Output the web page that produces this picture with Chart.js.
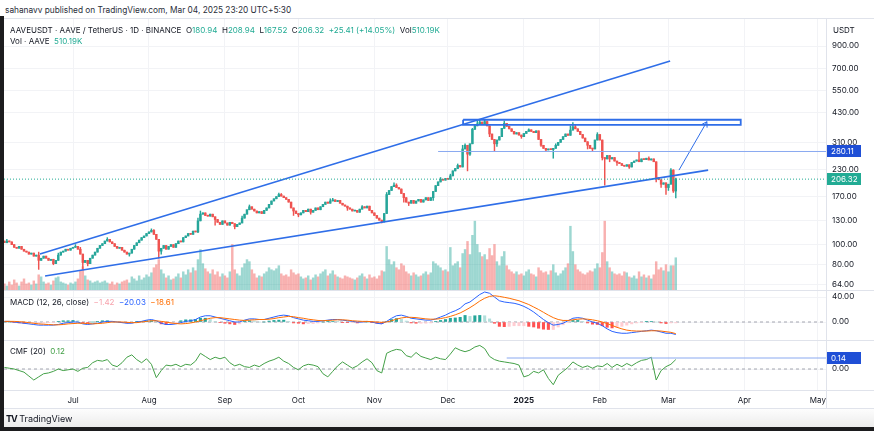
<!DOCTYPE html>
<html>
<head>
<meta charset="utf-8">
<script src="https://cdn.jsdelivr.net/npm/chart.js@4.4.1/dist/chart.umd.min.js"></script>
<style>
  html, body { margin: 0; padding: 0; background: #fff; }
  body { width: 874px; height: 431px; position: relative; overflow: hidden; font-family: Inter, "Noto Sans", sans-serif; color: #131722; }
  canvas { position: absolute; left: 4px; }
  .t { position: absolute; white-space: nowrap; font-size: 8px; line-height: 10px; }
  .g { color: #22ab94; }
  .hl { position: absolute; left: 4px; width: 870px; height: 1px; background: #e0e3eb; }
</style>
</head>
<body>
<div class="t" style="left:5px;top:5px;font-size:8.3px;color:#2a2e39">sahanavv published on TradingView.com, Mar 04, 2025 23:20 UTC+5:30</div>

<canvas id="main" width="870" height="272" style="top:18px"></canvas>
<canvas id="macd" width="870" height="50" style="top:290px"></canvas>
<canvas id="cmf" width="870" height="68" style="top:340px"></canvas>

<div class="hl" style="top:18px"></div>
<div class="hl" style="top:290px"></div>
<div class="hl" style="top:340px"></div>
<div class="hl" style="top:390px"></div>
<div class="hl" style="top:408px"></div>
<div style="position:absolute;left:826px;top:18px;width:1px;height:390px;background:#e0e3eb"></div>
<div style="position:absolute;left:0;top:16px;width:4px;height:415px;background:#1c1c1e"></div>
<div style="position:absolute;left:4px;top:409px;width:870px;height:18px;background:linear-gradient(#fdfdfd,#ececec)"></div>
<div style="position:absolute;left:0;top:427px;width:874px;height:4px;background:#1c1c1e"></div>

<div class="t" style="left:10px;top:25px">AAVEUSDT · AAVE / TetherUS · 1D · BINANCE&nbsp;&nbsp;O<span class="g">180.94</span>&nbsp;&nbsp;H<span class="g">208.94</span>&nbsp;&nbsp;L<span class="g">167.52</span>&nbsp;&nbsp;C<span class="g">206.32</span>&nbsp;&nbsp;<span class="g">+25.41 (+14.05%)</span>&nbsp;&nbsp;Vol<span class="g">510.19K</span></div>
<div class="t" style="left:10px;top:36px">Vol · AAVE&nbsp;&nbsp;<span class="g">510.19K</span></div>
<div class="t" style="left:833px;top:25px">USDT</div>
<div class="t" style="left:10px;top:297px">MACD (12, 26, close)&nbsp;&nbsp;<span style="color:#f7a3ad">−1.42</span>&nbsp;&nbsp;<span style="color:#2962ff">−20.03</span>&nbsp;&nbsp;<span style="color:#ff6d00">−18.61</span></div>
<div class="t" style="left:10px;top:346px">CMF (20)&nbsp;&nbsp;<span style="color:#43a047">0.12</span></div>
<div class="t" style="left:6px;top:413px;font-size:9px;line-height:12px"><b style="letter-spacing:-1px">TV</b> TradingView</div>

<script>
// daily candles, index 0 = 2024-06-03, last = 2025-03-04
const firstOpen = 104;
const closes = [
  102, 104, 103, 100, 97, 96, 98, 95, 93, 92,
  90, 91, 88, 89, 84, 86, 88, 86, 84, 85,
  81, 84, 89, 92, 93, 95, 94, 96, 97, 98,
  95, 90, 82, 84, 81, 86, 89, 92, 96, 99,
  101, 104, 106, 103, 101, 98, 96, 97, 94, 92,
  90, 91, 95, 99, 102, 105, 108, 110, 113, 115,
  117, 112, 106, 93, 96, 99, 95, 98, 100, 97,
  101, 104, 103, 108, 110, 113, 112, 116, 115, 130,
  140, 142, 138, 137, 140, 136, 132, 128, 125, 130,
  127, 124, 128, 126, 122, 125, 127, 134, 140, 147,
  152, 148, 145, 142, 144, 141, 146, 150, 156, 162,
  166, 170, 174, 171, 168, 165, 160, 150, 145, 141,
  139, 142, 146, 144, 148, 143, 146, 150, 147, 152,
  156, 160, 158, 162, 164, 161, 163, 158, 155, 153,
  150, 148, 145, 146, 143, 148, 152, 150, 153, 146,
  142, 138, 134, 131, 129, 141, 174, 182, 190, 193,
  188, 185, 176, 168, 160, 158, 163, 158, 162, 165,
  160, 164, 168, 163, 168, 180, 192, 200, 206, 204,
  208, 206, 214, 226, 232, 240, 236, 288, 300, 272,
  305, 358, 372, 380, 388, 378, 390, 372, 340, 320,
  305, 318, 330, 362, 382, 370, 360, 350, 340, 345,
  336, 330, 342, 350, 356, 350, 345, 352, 320, 300,
  290, 285, 288, 286, 290, 300, 310, 320, 330, 340,
  335, 355, 368, 360, 350, 338, 325, 312, 300, 290,
  288, 318, 338, 318, 262, 258, 268, 258, 262, 252,
  248, 245, 240, 238, 242, 236, 248, 252, 255, 250,
  258, 256, 260, 255, 258, 250, 210, 205, 195, 198,
  188, 195, 228, 180.94, 206.32
];
// visible wick extremes [candle index, price]
const wickHighs = [[1,106],[14,92],[22,91],[29,100],[31,97],[42,108],[60,119],[61,118],[79,134],[80,145],[97,137],[100,155],[112,177],[113,176],[133,166],[134,167],[146,154],[156,178],[159,198],[160,196],[178,210],[182,218],[185,244],[187,300],[188,305],[191,362],[192,378],[193,392],[194,398],[196,396],[197,392],[204,392],[205,382],[214,360],[225,305],[231,372],[232,386],[233,375],[242,345],[259,278],[263,264],[272,232],[273,229],[274,208.94]];
const wickLows = [[14,76],[20,80],[32,76],[34,79],[51,88],[63,86],[64,90],[79,114],[86,124],[94,119],[118,138],[120,136],[125,140],[140,146],[154,127],[155,128],[163,160],[165,154],[175,163],[189,226],[190,268],[198,330],[200,282],[201,296],[211,324],[219,296],[221,280],[224,260],[238,288],[240,280],[244,255],[245,193],[247,250],[250,240],[255,232],[266,200],[268,188],[270,174],[271,182],[273,178],[274,167.52]];
// volume, thousands of AAVE
const volumes = [
  96, 64, 128, 80, 160, 112, 64, 128, 176, 96,
  112, 80, 144, 96, 240, 208, 128, 96, 112, 80,
  144, 192, 208, 128, 112, 96, 80, 112, 96, 128,
  176, 304, 368, 224, 160, 144, 112, 128, 144, 112,
  128, 144, 112, 96, 128, 80, 112, 96, 128, 144,
  160, 112, 208, 176, 144, 224, 160, 192, 240, 208,
  272, 352, 400, 480, 320, 256, 192, 224, 160, 176,
  208, 256, 192, 288, 240, 320, 272, 352, 304, 480,
  640, 416, 336, 288, 256, 320, 240, 288, 208, 256,
  224, 192, 288, 720, 320, 256, 224, 352, 416, 480,
  448, 320, 256, 192, 224, 208, 256, 288, 352, 320,
  304, 336, 384, 256, 224, 240, 208, 320, 272, 240,
  256, 208, 176, 192, 224, 160, 192, 240, 208, 256,
  288, 320, 224, 256, 304, 240, 208, 192, 176, 224,
  208, 192, 176, 160, 192, 224, 256, 208, 176, 240,
  192, 208, 176, 224, 304, 288, 688, 480, 400, 448,
  352, 320, 416, 384, 288, 256, 224, 272, 240, 208,
  224, 256, 288, 240, 272, 448, 416, 384, 352, 304,
  320, 288, 672, 384, 416, 448, 352, 576, 640, 768,
  560, 864, 1088, 720, 592, 528, 560, 480, 656, 544,
  720, 448, 384, 528, 608, 384, 320, 288, 256, 288,
  240, 256, 224, 288, 320, 256, 240, 208, 352, 304,
  272, 288, 240, 304, 400, 272, 224, 256, 304, 352,
  416, 1008, 608, 400, 320, 288, 256, 240, 272, 304,
  288, 336, 416, 352, 592, 1088, 448, 352, 288, 256,
  240, 256, 224, 288, 272, 208, 192, 224, 176, 288,
  208, 240, 192, 224, 176, 240, 448, 320, 352, 304,
  400, 288, 384, 384, 510
];
// MACD / signal / CMF, read every second candle (index 0, 2, 4 ...)
const macdLine = [
  1, 1, 0, -1, -2, -3, -4, -5, -5, -5,
  -5, -4, -2, -1, 0, 0, -3, -4, -3, -2,
  0, 1, 1, 0, -1, -2, -2, 0, 1, 3,
  4, 2, -2, -4, -4, -3, -1, 1, 2, 4,
  8, 10, 10, 8, 6, 4, 2, 0, 0, 3,
  5, 5, 4, 4, 6, 8, 10, 11, 10, 7,
  5, 3, 2, 1, 1, 2, 3, 4, 4, 3,
  2, 1, 0, 0, 1, 0, -2, -3, 1, 6,
  10, 11, 9, 6, 5, 4, 3, 3, 5, 8,
  11, 15, 18, 22, 29, 32, 38, 44, 48, 46,
  40, 34, 32, 31, 30, 28, 25, 21, 16, 10,
  4, -1, -5, -4, -2, 2, 6, 7, 6, 3,
  0, -2, -6, -11, -15, -17, -18, -18, -17, -16,
  -15, -14, -13, -14, -16, -18, -18, -20.03
];
const signalLine = [
  1, 1, 1, 0.5, 0, -1, -2, -3, -3.5, -4,
  -4.5, -4.5, -4, -3, -2.5, -2, -2, -2.5, -3, -2.5,
  -2, -1, 0, 0, 0, -0.5, -1, -1, 0, 1,
  2, 2, 1, 0, -1.5, -2.5, -3, -2.5, -1.5, 0,
  2, 4, 6, 7, 7, 6, 5, 4, 3, 2.5,
  3, 3.5, 4, 4, 4.5, 5.5, 7, 8, 9, 8.5,
  7, 6, 4.5, 3.5, 2.5, 2, 2.5, 3, 3.5, 3.5,
  3, 2, 1.5, 1, 1, 0.5, 0, -0.5, 0, 2,
  4.5, 6.5, 7.5, 7.5, 7, 6, 5, 4.5, 4.5, 5.5,
  7, 9, 11.5, 14.5, 18.5, 23, 28, 33.5, 38, 41,
  42, 41, 39.5, 38, 36, 34, 31, 28, 24, 20,
  15.5, 11, 7, 4, 2.5, 2.5, 3.5, 4.5, 5, 4.5,
  3.5, 2, 0, -2.5, -5.5, -8.5, -11, -13, -14, -14.5,
  -14.5, -14.5, -14, -14, -14.5, -15.5, -16.5, -18.61
];
const cmfLine = [
  0.02, 0.01, 0.0, -0.02, -0.04, -0.09, -0.14, -0.10, -0.06, -0.05,
  -0.03, 0.0, -0.02, -0.01, 0.0, -0.03, 0.01, 0.02, 0.08, 0.11,
  0.10, 0.12, 0.05, 0.03, 0.08, 0.15, 0.18, 0.12, 0.08, 0.13,
  0.06, -0.11, -0.02, 0.05, 0.04, 0.06, 0.03, 0.06, 0.05, 0.10,
  0.20, 0.16, 0.12, 0.15, 0.13, 0.15, 0.08, 0.04, 0.06, 0.03,
  0.02, 0.05, 0.03, 0.07, 0.10, 0.12, 0.15, 0.10, 0.07, 0.02,
  -0.01, 0.04, 0.06, 0.05, 0.03, -0.06, -0.10, -0.03, 0.04, 0.09,
  0.05, 0.01, 0.04, 0.09, 0.13, 0.08, -0.02, -0.05, 0.20, 0.23,
  0.25, 0.24, 0.17, 0.15, 0.21, 0.16, 0.14, 0.12, 0.15, 0.13,
  0.12, 0.19, 0.27, 0.24, 0.22, 0.24, 0.28, 0.30, 0.26, 0.16,
  0.12, 0.10, 0.09, 0.08, 0.07, 0.05, -0.10, -0.08, -0.03, -0.05,
  -0.01, -0.12, -0.20, -0.08, -0.03, 0.02, 0.09, 0.05, 0.02, 0.04,
  0.01, 0.04, 0.03, 0.07, 0.02, 0.06, 0.03, 0.07, 0.04, 0.08,
  0.11, 0.12, 0.15, -0.14, -0.02, 0.03, 0.06, 0.12
];
// axes
const monthTicks = [28, 59, 90, 120, 151, 181, 212, 243, 271, 302, 332];
const monthLabels = ['Jul', 'Aug', 'Sep', 'Oct', 'Nov', 'Dec', '2025', 'Feb', 'Mar', 'Apr', 'May'];
const priceTicks = [64, 80, 100, 130, 170, 230, 310, 430, 550, 700, 900];
const macdTicks = [0, 40];
const cmfTicks = [0];
// drawings, [candle index, value]
const upperTrend = [[14.5, 90.2], [271.7, 762]];
const lowerTrend = [[16.6, 70.7], [287.2, 228]];
const resistanceBox = [[187.2, 398], [300.5, 398], [300.5, 376], [187.2, 376], [187.2, 398]];
const levelLine = [[177, 280.11], [336, 280.11]];
const arrowPath = [[275.3, 228], [286.7, 389.6]];
const lastPrice = 206.32;
const cmfLevel = [[205, 0.14], [336, 0.14]];

const X_MIN = -0.16, X_MAX = 335.3;
const FONT = 'Inter, "Noto Sans", sans-serif';
const UP = '#26a69a', DOWN = '#ef5350';

const opens = closes.map((c, i) => i === 0 ? firstOpen : closes[i - 1]);
const highs = closes.map((c, i) => Math.max(c, opens[i]));
const lows = closes.map((c, i) => Math.min(c, opens[i]));
wickHighs.forEach(([i, v]) => { highs[i] = v; });
wickLows.forEach(([i, v]) => { lows[i] = v; });
const isUp = closes.map((c, i) => c >= opens[i]);

const pts = (arr) => arr.map(([x, y]) => ({ x: x, y: y }));

function noPad(s) {
  s.paddingTop = 0; s.paddingBottom = 0; s.paddingLeft = 0; s.paddingRight = 0;
}

function xScale(showLabels) {
  return {
    type: 'linear', min: X_MIN, max: X_MAX, offset: false,
    afterBuildTicks: (s) => { s.ticks = monthTicks.map(v => ({ value: v })); },
    afterFit: (s) => { s.height = showLabels ? 18 : 0; noPad(s); },
    grid: { color: '#f2f3f6', drawTicks: false, offset: false },
    border: { display: false },
    ticks: {
      display: showLabels, autoSkip: false, maxRotation: 0, padding: 6, color: '#131722',
      font: (c) => ({ family: FONT, size: 8, weight: c.tick && c.tick.value === 212 ? 'bold' : 'normal' }),
      callback: (v, i) => monthLabels[i]
    }
  };
}

function yScale(extra, tickVals) {
  return Object.assign({
    position: 'right',
    afterBuildTicks: (s) => { s.ticks = tickVals.map(v => ({ value: v })); },
    afterFit: (s) => { s.width = 48; noPad(s); },
    grid: { color: '#f2f3f6', drawTicks: false },
    border: { display: false },
    ticks: { autoSkip: false, padding: 6, color: '#131722', font: { family: FONT, size: 8 }, callback: (v) => Number(v).toFixed(2) }
  }, extra);
}

function badges(axisId, items) {
  return {
    id: 'badges',
    afterDraw(chart) {
      const s = chart.scales[axisId], ctx = chart.ctx, x0 = chart.chartArea.right;
      ctx.save();
      ctx.font = '8px ' + FONT;
      ctx.textBaseline = 'middle';
      items.forEach(it => {
        const y = Math.round(s.getPixelForValue(it.value));
        ctx.fillStyle = it.color;
        ctx.fillRect(x0 + 1, y - 6, 34, 12);
        ctx.fillStyle = '#fff';
        ctx.fillText(it.value.toFixed(2), x0 + 5, y + 0.5);
      });
      ctx.restore();
    }
  };
}

const arrowHead = {
  id: 'arrowHead',
  afterDatasetsDraw(chart) {
    const idx = chart.data.datasets.findIndex(d => d.label === 'arrow');
    const [a, b] = chart.getDatasetMeta(idx).data;
    const ctx = chart.ctx, ang = Math.atan2(b.y - a.y, b.x - a.x), L = 6;
    ctx.save();
    ctx.strokeStyle = '#2f6ee8';
    ctx.lineWidth = 1;
    ctx.beginPath();
    ctx.moveTo(b.x - L * Math.cos(ang - 0.55), b.y - L * Math.sin(ang - 0.55));
    ctx.lineTo(b.x, b.y);
    ctx.lineTo(b.x - L * Math.cos(ang + 0.55), b.y - L * Math.sin(ang + 0.55));
    ctx.stroke();
    ctx.restore();
  }
};

const base = {
  responsive: false, animation: false, devicePixelRatio: 1,
  layout: { padding: 0 },
  plugins: { legend: { display: false }, tooltip: { enabled: false } }
};

function lineDs(label, arr, color, width, extra) {
  return Object.assign({ type: 'line', label: label, data: pts(arr), borderColor: color, borderWidth: width, pointRadius: 0, fill: false, tension: 0, order: 1 }, extra || {});
}

new Chart(document.getElementById('main'), {
  type: 'bar',
  data: {
    datasets: [
      { label: 'vol', yAxisID: 'v', data: volumes.map((v, i) => ({ x: i, y: v })),
        backgroundColor: isUp.map(u => u ? 'rgba(38,166,154,0.45)' : 'rgba(239,83,80,0.45)'),
        barThickness: 1.8, grouped: false, order: 10 },
      { label: 'wick', yAxisID: 'y', data: closes.map((c, i) => ({ x: i, y: [lows[i], highs[i]] })),
        backgroundColor: isUp.map(u => u ? UP : DOWN), barThickness: 0.8, grouped: false, order: 5 },
      { label: 'body', yAxisID: 'y', data: closes.map((c, i) => ({ x: i, y: [opens[i], c] })),
        backgroundColor: isUp.map(u => u ? UP : DOWN), barThickness: 1.8, minBarLength: 1, grouped: false, order: 4 },
      lineDs('last', [[X_MIN, lastPrice], [X_MAX, lastPrice]], '#22ab94', 1, { yAxisID: 'y', borderDash: [1, 2] }),
      lineDs('upper', upperTrend, '#2f6ee8', 1.6, { yAxisID: 'y' }),
      lineDs('lower', lowerTrend, '#2f6ee8', 1.6, { yAxisID: 'y' }),
      lineDs('box', resistanceBox, '#2f6ee8', 1.8, { yAxisID: 'y' }),
      lineDs('level', levelLine, '#8aa9f0', 1, { yAxisID: 'y' }),
      lineDs('arrow', arrowPath, '#2f6ee8', 1, { yAxisID: 'y' })
    ]
  },
  options: Object.assign({}, base, {
    scales: {
      x: xScale(false),
      y: yScale({ type: 'logarithmic', min: 60.5, max: 1227 }, priceTicks),
      v: { type: 'linear', display: false, min: 0, max: 4300 }
    }
  }),
  plugins: [arrowHead, badges('y', [{ value: 280.11, color: '#1f4fd6' }, { value: 206.32, color: '#22ab94' }])]
});

const histVals = macdLine.map((m, k) => m - signalLine[k]);
const histColors = histVals.map((h, k) => {
  const p = k > 0 ? histVals[k - 1] : h;
  if (h >= 0) return h >= p ? '#26a69a' : '#b2dfdb';
  return h < p ? '#ff5252' : '#ffcdd2';
});

new Chart(document.getElementById('macd'), {
  type: 'bar',
  data: {
    datasets: [
      { label: 'hist', data: histVals.map((h, k) => ({ x: k * 2, y: h })), backgroundColor: histColors, barThickness: 2.4, grouped: false, order: 5 },
      lineDs('zero', [[X_MIN, 0], [X_MAX, 0]], '#a3a6af', 1, { borderDash: [3, 3], order: 6 }),
      lineDs('signal', macdLine.map((m, k) => [k * 2, signalLine[k]]), '#ff6d00', 1),
      lineDs('macd', macdLine.map((m, k) => [k * 2, m]), '#2962ff', 1)
    ]
  },
  options: Object.assign({}, base, {
    scales: { x: xScale(false), y: yScale({ type: 'linear', min: -28.8, max: 51.2 }, macdTicks) }
  })
});

new Chart(document.getElementById('cmf'), {
  type: 'line',
  data: {
    datasets: [
      lineDs('zero', [[X_MIN, 0], [X_MAX, 0]], '#a3a6af', 1, { borderDash: [3, 3], order: 6 }),
      lineDs('level', cmfLevel, '#8aa9f0', 1),
      lineDs('cmf', cmfLine.map((v, k) => [k * 2, v]), '#43a047', 1)
    ]
  },
  options: Object.assign({}, base, {
    scales: { x: xScale(true), y: yScale({ type: 'linear', min: -0.267, max: 0.369 }, cmfTicks) }
  }),
  plugins: [badges('y', [{ value: 0.14, color: '#1f4fd6' }])]
});
</script>
</body>
</html>
